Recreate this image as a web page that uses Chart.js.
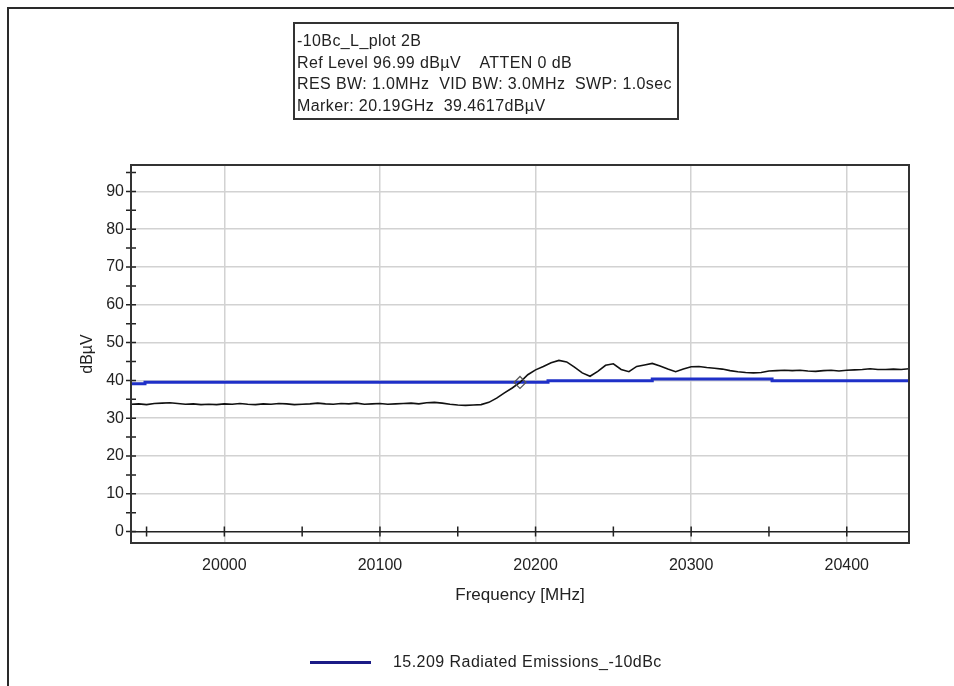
<!DOCTYPE html>
<html>
<head>
<meta charset="utf-8">
<title>-10Bc_L_plot 2B</title>
<script src="https://cdn.jsdelivr.net/npm/chart.js@4.4.1/dist/chart.umd.min.js"></script>
<style>
    html, body { margin: 0; padding: 0; background: #fff; }
    body {
        width: 954px; height: 686px; position: relative; overflow: hidden;
        font-family: "Liberation Sans", Arial, sans-serif; color: #222;
    }
    #frame {
        position: absolute; left: 7px; top: 7px; right: 0; bottom: 0;
        border-top: 2px solid #2a2a2a; border-left: 2px solid #2a2a2a;
    }
    #wrap { position: absolute; left: 0; top: 0; width: 954px; height: 686px; }
    #info {
        position: absolute; left: 293px; top: 22px; width: 380px; height: 94px;
        border: 2px solid #333; padding: 0 0 0 2px; box-sizing: content-box;
        font-size: 16px; letter-spacing: 0.4px; line-height: 21.5px; white-space: pre;
    }
    #info div:first-child { margin-top: 6px; }
    #legend { position: absolute; left: 310px; top: 651px; height: 22px; }
    #legend .swatch {
        position: absolute; left: 0; top: 10px; width: 61px; height: 3px; background: #1b1b86;
    }
    #legend .label {
        position: absolute; left: 83px; top: 0; font-size: 16px; letter-spacing: 0.45px;
        line-height: 22px; white-space: pre;
    }
</style>
</head>
<body>
<div id="frame"></div>
<div id="wrap"><canvas id="spectrum" width="954" height="686"></canvas></div>
<div id="info"></div>
<div id="legend"><div class="swatch"></div><div class="label"></div></div>

<script>
// header text of the analyzer plot
const infoLines = [
    '-10Bc_L_plot 2B',
    'Ref Level 96.99 dB\u00b5V    ATTEN 0 dB',
    'RES BW: 1.0MHz  VID BW: 3.0MHz  SWP: 1.0sec',
    'Marker: 20.19GHz  39.4617dB\u00b5V'
];
const legendText = '15.209 Radiated Emissions_-10dBc';

const traceFreq = [
    19940, 19945, 19950, 19955, 19960, 19965, 19970, 19975, 19980, 19985,
    19990, 19995, 20000, 20005, 20010, 20015, 20020, 20025, 20030, 20035,
    20040, 20045, 20050, 20055, 20060, 20065, 20070, 20075, 20080, 20085,
    20090, 20095, 20100, 20105, 20110, 20115, 20120, 20125, 20130, 20135,
    20140, 20145, 20150, 20155, 20160, 20165, 20170, 20175, 20180, 20185,
    20190, 20195, 20200, 20205, 20210, 20215, 20220, 20225, 20230, 20235,
    20240, 20245, 20250, 20255, 20260, 20265, 20270, 20275, 20280, 20285,
    20290, 20295, 20300, 20305, 20310, 20315, 20320, 20325, 20330, 20335,
    20340, 20345, 20350, 20355, 20360, 20365, 20370, 20375, 20380, 20385,
    20390, 20395, 20400, 20405, 20410, 20415, 20420, 20425, 20430, 20435,
    20440
];
const traceLevel = [
    33.7, 33.8, 33.6, 33.9, 34.0, 34.1, 33.9, 33.7, 33.8, 33.6,
    33.7, 33.6, 33.8, 33.7, 33.9, 33.7, 33.6, 33.8, 33.7, 33.9,
    33.8, 33.6, 33.7, 33.8, 34.0, 33.8, 33.7, 33.9, 33.8, 34.0,
    33.7, 33.8, 33.9, 33.7, 33.8, 33.9, 34.0, 33.8, 34.1, 34.2,
    34.0, 33.7, 33.5, 33.4, 33.5, 33.6, 34.2, 35.3, 36.7, 38.0,
    39.5, 41.5, 42.8, 43.7, 44.7, 45.3, 44.9, 43.5, 42.0, 41.1,
    42.4, 44.0, 44.4, 42.9, 42.3, 43.7, 44.1, 44.5, 43.8, 43.0,
    42.3, 43.0, 43.6, 43.7, 43.4, 43.2, 43.0, 42.6, 42.3, 42.1,
    42.0, 42.1, 42.5, 42.6, 42.7, 42.6, 42.7, 42.5, 42.4, 42.6,
    42.7, 42.5, 42.7, 42.8, 42.9, 43.1, 42.9, 42.9, 43.0, 42.9,
    43.1
];

// limit line (step changes)
const limitFreq = [19940, 19949, 20208, 20275, 20352, 20440];
const limitLevel = [39.1, 39.5, 39.9, 40.4, 39.9, 39.9];

// marker
const markerFreq = [20190];
const markerLevel = [39.4617];

// axes
const xMin = 19940, xMax = 20440;
const yMin = -3.01, yMax = 96.99;
const xTickValues = [19950, 20000, 20050, 20100, 20150, 20200, 20250, 20300, 20350, 20400];
const xLabelValues = [20000, 20100, 20200, 20300, 20400];
const yTickValues = [0, 5, 10, 15, 20, 25, 30, 35, 40, 45, 50, 55, 60, 65, 70, 75, 80, 85, 90, 95];
const yLabelValues = [0, 10, 20, 30, 40, 50, 60, 70, 80, 90];

document.getElementById('info').innerHTML = infoLines.map(t => `<div>${t}</div>`).join('');
document.querySelector('#legend .label').textContent = legendText;

const toPoints = (xs, ys) => xs.map((x, i) => ({ x: x, y: ys[i] }));

const FAMILY = '"Liberation Sans", Arial, sans-serif';
const TICK_FONT = { family: FAMILY, size: 16 };
const TITLE_FONT = { family: FAMILY, size: 17 };

// frame, tick marks on the zero line and the left axis
const framePlugin = {
    id: 'frame',
    afterDraw(chart) {
        const { ctx, chartArea: a, scales } = chart;
        const x = scales.x, y = scales.y;
        ctx.save();
        ctx.strokeStyle = '#222';
        ctx.lineWidth = 1.5;
        const y0 = y.getPixelForValue(0);
        ctx.beginPath();
        xTickValues.forEach(v => {
            const px = x.getPixelForValue(v);
            ctx.moveTo(px, y0 - 5);
            ctx.lineTo(px, y0 + 5);
        });
        yTickValues.forEach(v => {
            const py = y.getPixelForValue(v);
            ctx.moveTo(a.left - 5, py);
            ctx.lineTo(a.left + 5, py);
        });
        ctx.stroke();
        ctx.strokeStyle = '#333';
        ctx.lineWidth = 2;
        ctx.strokeRect(a.left, a.top, a.right - a.left, a.bottom - a.top);
        ctx.restore();
    }
};

const canvas = document.getElementById('spectrum');
new Chart(canvas.getContext('2d'), {
    type: 'line',
    data: {
        datasets: [
            {
                label: 'marker',
                data: toPoints(markerFreq, markerLevel),
                showLine: false,
                pointStyle: 'rectRot',
                pointRadius: 6,
                pointBorderWidth: 1.2,
                pointBorderColor: '#555',
                pointBackgroundColor: 'rgba(0,0,0,0)'
            },
            {
                label: 'trace',
                data: toPoints(traceFreq, traceLevel),
                borderColor: '#111',
                borderWidth: 1.6,
                pointRadius: 0,
                tension: 0
            },
            {
                label: legendText,
                data: toPoints(limitFreq, limitLevel),
                borderColor: '#1f30c8',
                borderWidth: 3,
                pointRadius: 0,
                stepped: 'before'
            }
        ]
    },
    options: {
        responsive: false,
        animation: false,
        layout: { padding: { top: 165, right: 45, bottom: 73, left: 0 } },
        plugins: {
            legend: { display: false },
            tooltip: { enabled: false }
        },
        scales: {
            x: {
                type: 'linear',
                min: xMin,
                max: xMax,
                afterBuildTicks: s => { s.ticks = xTickValues.map(v => ({ value: v })); },
                afterFit: s => { s.height = 70; },
                ticks: {
                    autoSkip: false,
                    maxRotation: 0,
                    padding: 13,
                    color: '#222',
                    font: TICK_FONT,
                    callback: v => xLabelValues.includes(v) ? String(v) : ''
                },
                grid: {
                    drawTicks: false,
                    lineWidth: 1.5,
                    color: c => (c.tick && xLabelValues.includes(c.tick.value)) ? '#d2d2d2' : 'rgba(0,0,0,0)'
                },
                border: { display: false },
                title: {
                    display: true,
                    text: 'Frequency [MHz]',
                    color: '#222',
                    font: TITLE_FONT,
                    padding: { top: 0, bottom: 7 }
                }
            },
            y: {
                type: 'linear',
                min: yMin,
                max: yMax,
                afterBuildTicks: s => { s.ticks = yTickValues.map(v => ({ value: v })); },
                afterFit: s => { s.width = 131; },
                ticks: {
                    autoSkip: false,
                    padding: 7,
                    color: '#222',
                    font: TICK_FONT,
                    callback: v => yLabelValues.includes(v) ? String(v) : ''
                },
                grid: {
                    drawTicks: false,
                    lineWidth: 1.5,
                    color: c => {
                        if (!c.tick) return 'rgba(0,0,0,0)';
                        if (c.tick.value === 0) return '#222';
                        return yLabelValues.includes(c.tick.value) ? '#d2d2d2' : 'rgba(0,0,0,0)';
                    }
                },
                border: { display: false },
                title: {
                    display: true,
                    text: 'dB\u00b5V',
                    color: '#222',
                    font: TICK_FONT,
                    padding: { top: 78, bottom: 0 }
                }
            }
        }
    },
    plugins: [framePlugin]
});
</script>
</body>
</html>
